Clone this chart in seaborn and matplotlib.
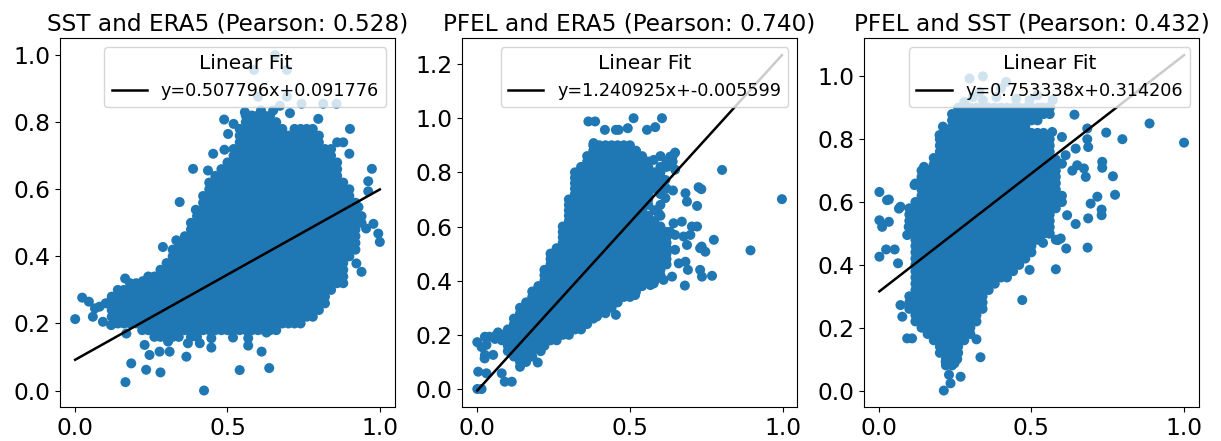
import numpy as np
import pandas as pd
import matplotlib
matplotlib.use("Agg")
import matplotlib.pyplot as plt
from matplotlib.ticker import MultipleLocator
import seaborn as sns

# Pairwise comparisons of normalised upwelling indices
pair_names = ["SST and ERA5", "PFEL and ERA5", "PFEL and SST"]
pearson_r = [0.528, 0.740, 0.432]
fit_slope = [0.507796, 1.240925, 0.753338]
fit_intercept = [0.091776, -0.005599, 0.314206]

# Dense core of each cloud: one row per 0.02 of y, starting at y = 1.00;
# '#' marks a sample at x = 0.02 * column.  Spaces only group columns by five.
GRID_STEP = 0.02

sst_era5_core = [
    "", "", "", "", "", "", "", "", "",
    "..... ..... ..... ..... ..... ...## ###..",
    "..... ..... ..... ..... ..... ...## ####.",
    "..... ..... ..... ..... ..... ..### ##### .####",
    "..... ..... ..... ..... ..... ..### ##### ##### #....",
    "..... ..... ..... ..... ..... ..### ##### ##### #..##",
    "..... ..... ..... ..... ..... .#### ##### ##### ###..",
    "..... ..... ..... ..... ..... .#### ##### ##### ###..",
    "..... ..... ..... ..... ..... ##### ##### ##### ####.",
    "..... ..... ..... ..... ....# ##### ##### ##### ####.",
    "..... ..... ..... ..... ...## ##### ##### ##### ####.",
    "..... ..... ..... ..... ..### ##### ##### ##### #####",
    "..... ..... ..... ..... ..### ##### ##### ##### ##### #....",
    "..... ..... ..... ..... .#### ##### ##### ##### ##### #....",
    "..... ..... ..... ..... .#### ##### ##### ##### ##### ##...",
    "..... ..... ..... ..... .#### ##### ##### ##### ##### ##...",
    "..... ..... ..... ..... ##### ##### ##### ##### ##### ###..",
    "..... ..... ..... ....# ##### ##### ##### ##### ##### ###..",
    "..... ..... ..... ....# ##### ##### ##### ##### ##### ##...",
    "..... ..... ..... ...## ##### ##### ##### ##### ##### ##...",
    "..... ..... ..... ..### ##### ##### ##### ##### ##### ##...",
    "..... ..... ..... .#### ##### ##### ##### ##### ##### ##...",
    "..... ..... ..... .#### ##### ##### ##### ##### ##### #....",
    "..... ..... ..... ##### ##### ##### ##### ##### #####",
    "..... ..... ....# ##### ##### ##### ##### ##### #####",
    "..... ..... ..### ##### ##### ##### ##### ##### #####",
    "..... ....# ##### ##### ##### ##### ##### ##### ####.",
    "..... ..### ##### ##### ##### ##### ##### ##### ###..",
    "..... .#### ##### ##### ##### ##### ##### ##### ##...",
    "..... ##### ##### ##### ##### ##### ##### ##### ##...",
    "..... .#### ##### ##### ##### ##### ##### ##### #....",
    "..... .#### ##### ##### ##### ##### ##### #####",
    "..... ..### ##### ##### ##### ##### ##### ###..",
    "..... ..... .#### ##### ##### ##### ####.",
    "..... ..... ...## ###.# #....",
    "", "", "", "", "", "", "", "",
]
sst_era5_x = [0.656, 0.587, 0.695, 0.600, 0.695, 0.672, 0.743, 0.814, 0.858, 0.557,
              0.610, 0.650, 0.705, 0.798, 0.489, 0.520, 0.902, 0.502, 0.453, 0.490,
              0.387, 0.436, 0.974, 0.962, 0.962, 0.343, 0.396, 0.431, 0.930, 0.979,
              0.955, 0.995, 1.000, 0.288, 0.332, 0.940, 0.880, 0.923, 0.164, 0.222,
              0.023, 0.045, 0.065, 0.080, 0.107, 0.000, 0.058, 0.091, 0.118, 0.168,
              0.228, 0.244, 0.277, 0.305, 0.310, 0.365, 0.370, 0.409, 0.447, 0.447,
              0.518, 0.568, 0.568, 0.612, 0.628, 0.184, 0.233, 0.280, 0.165, 0.423,
              0.540, 0.637, 0.900]
sst_era5_y = [1.000, 0.956, 0.956, 0.876, 0.876, 0.849, 0.855, 0.855, 0.855, 0.830,
              0.835, 0.835, 0.827, 0.810, 0.808, 0.795, 0.780, 0.765, 0.706, 0.718,
              0.661, 0.656, 0.661, 0.624, 0.594, 0.562, 0.539, 0.550, 0.547, 0.497,
              0.483, 0.468, 0.443, 0.428, 0.448, 0.354, 0.320, 0.379, 0.334, 0.326,
              0.277, 0.265, 0.245, 0.250, 0.260, 0.213, 0.220, 0.205, 0.195, 0.170,
              0.136, 0.106, 0.116, 0.146, 0.116, 0.101, 0.141, 0.141, 0.156, 0.128,
              0.158, 0.156, 0.134, 0.116, 0.173, 0.081, 0.062, 0.054, 0.025, 0.000,
              0.061, 0.067, 0.706]

pfel_era5_core = [
    "", "", "", "", "",
    "..... ..... ..... ....# ##### #....",
    "..... ..... ..... ....# ##### ##...",
    "..... ..... ..... ...## ##### ###.. #.#..",
    "..... ..... ..... ...## ##### ####. .##..",
    "..... ..... ..... ..### ##### ####. ##...",
    "..... ..... ..... .#### ##### ##### #....",
    "..... ..... ..... .#### ##### ##### #....",
    "..... ..... ..... .#### ##### ##### #....",
    "..... ..... ..... .#### ##### ##### .#...",
    "..... ..... ..... .#### ##### ####. #....",
    "..... ..... ..... ##### ##### ####.",
    "..... ..... ..... ##### ##### ####. #....",
    "..... ..... ..... ##### ##### ###.#",
    "..... ..... ..... ##### ##### ####. #....",
    "..... ..... ..... ##### ##### #####",
    "..... ..... ....# ##### ##### ##### #....",
    "..... ..... ....# ##### ##### ##### ##...",
    "..... ..... ....# ##### ##### ##### ##...",
    "..... ..... ....# ##### ##### ##### ##...",
    "..... ..... ...## ##### ##### ##### ##...",
    "..... ..... ..### ##### ##### ##### ##...",
    "..... ..... ..### ##### ##### ##### ##...",
    "..... ..... ..### ##### ##### ##### ##...",
    "..... ..... .#### ##### ##### ##### #....",
    "..... ..... .#### ##### ##### ##### #....",
    "..... ..... .#### ##### ##### #####",
    "..... ..... ##### ##### ##### ###..",
    "..... ....# ##### ##### ##### ##...",
    "..... ....# ##### ##### ##### #....",
    "..... ...## ##### ##### ####.",
    "..... ..### ##### ##### ###..",
    "..... ..### ##### ##### ##...",
    "..... .#### ##### #####",
    "..... .#### ##### ####.",
    "..... ##### ##### ###..",
    "....# ##### ##### #....",
    "....# ##### ####.",
    "..... ##### ##...",
    "..... #####",
    "..... .####",
    "..... ..##.",
    "", "", "", "", "",
]
pfel_era5_x = [0.364, 0.386, 0.418, 0.454, 0.463, 0.493, 0.512, 0.556, 0.583, 0.605,
               0.648, 0.632, 0.578, 0.620, 0.802, 0.998, 0.648, 0.616, 0.578, 0.725,
               0.734, 0.682, 0.641, 0.616, 0.687, 0.720, 0.594, 0.670, 0.643, 0.703,
               0.720, 0.605, 0.632, 0.648, 0.676, 0.698, 0.775, 0.735, 0.730, 0.895,
               0.621, 0.648, 0.687, 0.747, 0.660, 0.682, 0.690, 0.730, 0.736, 0.769,
               0.638, 0.610, 0.680, 0.578, 0.567, 0.517, 0.484, 0.454, 0.392, 0.381,
               0.000, 0.025, 0.040, 0.063, 0.068, 0.058, 0.030, 0.014, 0.024, 0.025,
               0.052, 0.003, 0.030, 0.080, 0.090, 0.113, 0.000, 0.014, 0.140, 0.198,
               0.208]
pfel_era5_y = [0.988, 0.988, 0.957, 0.957, 0.957, 0.963, 1.000, 0.957, 0.967, 1.000,
               0.873, 0.858, 0.846, 0.828, 0.809, 0.701, 0.810, 0.772, 0.747, 0.745,
               0.738, 0.723, 0.733, 0.705, 0.692, 0.676, 0.649, 0.618, 0.612, 0.600,
               0.600, 0.580, 0.580, 0.569, 0.563, 0.569, 0.551, 0.526, 0.520, 0.512,
               0.520, 0.514, 0.532, 0.507, 0.464, 0.470, 0.440, 0.440, 0.415, 0.418,
               0.415, 0.403, 0.382, 0.390, 0.384, 0.347, 0.360, 0.274, 0.268, 0.908,
               0.173, 0.193, 0.193, 0.200, 0.209, 0.185, 0.163, 0.155, 0.113, 0.126,
               0.126, 0.064, 0.058, 0.058, 0.027, 0.027, 0.000, 0.000, 0.082, 0.098,
               0.140]

pfel_sst_core = [
    "", "", "", "", "",
    "..... ..... ...## ##### ##### ####.",
    "..... ..... ..### ##### ##### ####.",
    "..... ..... ..### ##### ##### ##...",
    "..... ..... ..### ##### #####",
    "..... ..... .#### ##### ##### ###..",
    "..... ..... ##### ##### ##### ####.",
    "..... ..... ##### ##### ##### ####.",
    "..... ..... ##### ##### ##### ####.",
    "..... ....# ##### ##### ##### ####.",
    "..... ....# ##### ##### ##### #####",
    "..... ..### ##### ##### ##### #####",
    "..... ..### ##### ##### ##### #####",
    "..... ..### ##### ##### ##### #####",
    "..... ..### ##### ##### ##### #####",
    "..... ..### ##### ##### ##### ##### #....",
    "..... .#### ##### ##### ##### ##### #....",
    "..... ##### ##### ##### ##### #####",
    "..... ##### ##### ##### ##### ####.",
    "..... ##### ##### ##### ##### ####.",
    "..... ##### ##### ##### ##### ####.",
    "..... .#### ##### ##### ##### ####.",
    "..... .#### ##### ##### ##### ##...",
    "..... .#### ##### ##### ##### #....",
    "..... .#### ##### ##### ##### #....",
    "..... .#### ##### ##### #####",
    "..... .#### ##### ##### ####.",
    "..... .#### ##### ##### ###..",
    "..... .#### ##### ##### ##...",
    "..... .#### ##### #####",
    "..... .#### ##### ####.",
    "..... ##### ##### ###..",
    "..... ##### ##### ###..",
    "..... ##### ##### ###..",
    "..... .#### ##### ##...",
    "..... .#### ##### ##...",
    "..... ..### ##### #....",
    "..... ...## ##### #....",
    "..... ....# #####",
    "..... ..... ####.",
    "..... ..... ####.",
    "..... ..... .##..",
    "..... ..... .##..",
    "", "", "", "",
]
pfel_sst_x = [0.297, 0.341, 0.417, 0.385, 0.450, 0.494, 0.308, 0.341, 0.560, 0.538,
              0.400, 0.330, 0.520, 0.570, 0.280,
              0.641, 0.745, 0.798, 0.887, 1.000, 0.683, 0.683, 0.686, 0.645, 0.732,
              0.732, 0.767, 0.774, 0.730, 0.730, 0.686, 0.684, 0.716, 0.694, 0.645,
              0.617, 0.614, 0.580, 0.596, 0.580, 0.557, 0.678, 0.672, 0.650, 0.634,
              0.612, 0.600, 0.580, 0.557, 0.568, 0.600, 0.514, 0.557, 0.530, 0.470,
              0.494, 0.587, 0.538,
              0.002, 0.027, 0.033, 0.066, 0.071, 0.002, 0.033, 0.011, 0.002, 0.024,
              0.052, 0.063, 0.093, 0.098, 0.148, 0.175, 0.153, 0.120, 0.129, 0.117,
              0.071, 0.077, 0.093, 0.109, 0.333, 0.268, 0.230, 0.235, 0.213, 0.219,
              0.257, 0.320, 0.248, 0.199, 0.210]
pfel_sst_y = [0.993, 1.000, 0.982, 0.934, 0.929, 0.924, 0.934, 0.924, 0.903, 0.897,
              0.962, 0.950, 0.940, 0.925, 0.918,
              0.878, 0.821, 0.800, 0.850, 0.789, 0.834, 0.800, 0.775, 0.770, 0.728,
              0.709, 0.682, 0.623, 0.576, 0.558, 0.548, 0.455, 0.617, 0.595, 0.530,
              0.558, 0.452, 0.386, 0.484, 0.480, 0.500, 0.680, 0.707, 0.717, 0.700,
              0.749, 0.722, 0.735, 0.797, 0.823, 0.807, 0.876, 0.897, 0.900, 0.288,
              0.384, 0.479, 0.470,
              0.632, 0.606, 0.608, 0.579, 0.585, 0.542, 0.537, 0.521, 0.426, 0.449,
              0.449, 0.405, 0.495, 0.521, 0.712, 0.707, 0.664, 0.659, 0.580, 0.654,
              0.272, 0.235, 0.166, 0.166, 0.106, 0.044, 0.050, 0.023, 0.000, 0.092,
              0.100, 0.163, 0.087, 0.813, 0.840]


def cloud(core_rows, extra_x, extra_y):
    xs, ys = [], []
    for r, row in enumerate(core_rows):
        for c, ch in enumerate(row.replace(" ", "")):
            if ch == "#":
                xs.append(round(c * GRID_STEP, 2))
                ys.append(round(1.0 - r * GRID_STEP, 2))
    xs += list(extra_x)
    ys += list(extra_y)
    return pd.DataFrame({"x": xs, "y": ys})


clouds = [
    cloud(sst_era5_core, sst_era5_x, sst_era5_y),
    cloud(pfel_era5_core, pfel_era5_x, pfel_era5_y),
    cloud(pfel_sst_core, pfel_sst_x, pfel_sst_y),
]

fig, axes = plt.subplots(1, 3, figsize=(12.21, 4.41), dpi=100)
fig.subplots_adjust(left=0.0491, right=0.9822, bottom=0.0764, top=0.913, wspace=0.2)

for ax, df, name, r, m, b in zip(axes, clouds, pair_names, pearson_r,
                                 fit_slope, fit_intercept):
    sns.scatterplot(data=df, x="x", y="y", ax=ax, color="#1f77b4", s=52,
                    linewidth=0, edgecolor="none")
    fx = np.array([df["x"].min(), df["x"].max()])
    sns.lineplot(x=fx, y=m * fx + b, ax=ax, color="black", linewidth=1.8,
                 label=f"y={m:.6f}x+{b:.6f}")
    ax.legend(title="Linear Fit", loc="upper right", fontsize=12.7,
              title_fontsize=14.6)
    ax.set_title(f"{name} (Pearson: {r:.3f})", fontsize=16.7)
    ax.set_xlabel("")
    ax.set_ylabel("")
    ax.xaxis.set_major_locator(MultipleLocator(0.5))
    ax.yaxis.set_major_locator(MultipleLocator(0.2))
    ax.tick_params(labelsize=16.8)

fig.savefig("out.png", dpi=100)
